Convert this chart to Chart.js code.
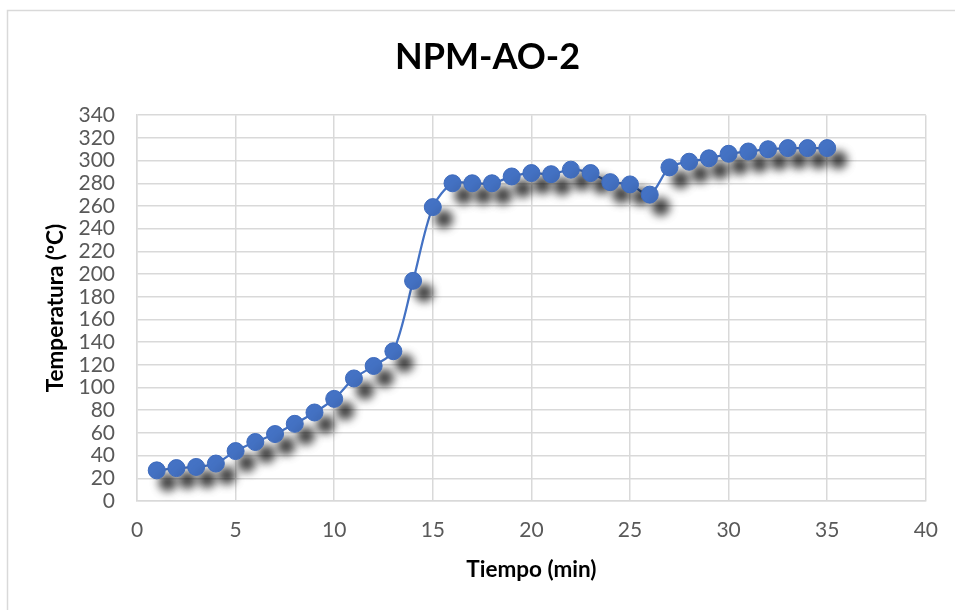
<!DOCTYPE html>
<html>
<head>
<meta charset="utf-8">
<script src="https://cdn.jsdelivr.net/npm/chart.js@4/dist/chart.umd.min.js"></script>
<style>
  html, body { margin: 0; padding: 0; background: #ffffff; }
  #wrap { position: relative; width: 955px; height: 610px; }
</style>
</head>
<body>
<div id="wrap"><canvas id="chart" width="955" height="610"></canvas></div>
<script>
// Heating curve of sample NPM-AO-2
const chartTitle = 'NPM-AO-2';
const xAxisTitle = 'Tiempo (min)';
const yAxisTitle = 'Temperatura (ºC)';

const tiempo = [1, 2, 3, 4, 5, 6, 7, 8, 9, 10, 11, 12, 13, 14, 15, 16, 17, 18,
                19, 20, 21, 22, 23, 24, 25, 26, 27, 28, 29, 30, 31, 32, 33, 34, 35];
const temperatura = [27, 29, 30, 33, 44, 52, 59, 68, 78, 90, 108, 119, 132, 194, 259, 280, 280, 280,
                     286, 289, 288, 292, 289, 281, 279, 270, 294, 299, 302, 306, 308, 310, 311, 311, 311];

const xTicks = { min: 0, max: 40, step: 5 };
const yTicks = { min: 0, max: 340, step: 20 };

const points = tiempo.map((t, i) => ({ x: t, y: temperatura[i] }));

const FONT = 'Lato, "Liberation Sans", sans-serif';
const BLUE = '#4472C4';
const GRID = '#d9d9d9';

// soft drop shadow under the markers only
const markerShadow = {
  id: 'markerShadow',
  beforeDatasetDraw(chart, args) {
    const ds = chart.data.datasets[args.index];
    if (!ds.dropShadow) return;
    const ctx = chart.ctx;
    ctx.save();
    ctx.shadowColor = 'rgba(0,0,0,0.75)';
    ctx.shadowBlur = 8;
    ctx.shadowOffsetX = 11;
    ctx.shadowOffsetY = 12;
  },
  afterDatasetDraw(chart, args) {
    const ds = chart.data.datasets[args.index];
    if (!ds.dropShadow) return;
    chart.ctx.restore();
  }
};

// thin frame around the whole chart
const chartFrame = {
  id: 'chartFrame',
  beforeDraw(chart) {
    const ctx = chart.ctx;
    ctx.save();
    ctx.fillStyle = '#ffffff';
    ctx.fillRect(0, 0, chart.width, chart.height);
    ctx.strokeStyle = '#d9d9d9';
    ctx.lineWidth = 1.5;
    ctx.strokeRect(7.5, 10.5, chart.width + 10, chart.height + 10);
    ctx.restore();
  }
};

new Chart(document.getElementById('chart'), {
  type: 'line',
  data: {
    datasets: [
      {
        label: 'markers',
        data: points,
        showLine: false,
        dropShadow: true,
        pointRadius: 8.5,
        pointHoverRadius: 8.5,
        pointBackgroundColor: BLUE,
        pointBorderColor: '#3e6bbd',
        pointBorderWidth: 1
      },
      {
        label: 'curve',
        data: points,
        borderColor: BLUE,
        borderWidth: 2.25,
        tension: 0.3,
        pointRadius: 0,
        fill: false
      }
    ]
  },
  options: {
    responsive: false,
    animation: false,
    events: [],
    layout: { padding: { left: 20, right: 0, top: 0, bottom: 0 } },
    plugins: {
      legend: { display: false },
      tooltip: { enabled: false },
      title: {
        display: true,
        text: chartTitle,
        color: '#000000',
        font: { family: FONT, size: 36, weight: 'bold', lineHeight: 1.2 },
        padding: { top: 36, bottom: 36 }
      }
    },
    scales: {
      x: {
        type: 'linear',
        min: xTicks.min,
        max: xTicks.max,
        ticks: {
          stepSize: xTicks.step,
          autoSkip: false,
          color: '#595959',
          padding: 17,
          font: { family: FONT, size: 21 }
        },
        grid: { color: GRID, lineWidth: 1.5, drawTicks: false },
        border: { color: GRID, width: 1.5 },
        title: {
          display: true,
          text: xAxisTitle,
          color: '#000000',
          font: { family: FONT, size: 22.5, weight: 'bold', lineHeight: 1.2 },
          padding: { top: 0, bottom: 26.5 }
        },
        afterFit(scale) { scale.height = 109; }
      },
      y: {
        min: yTicks.min,
        max: yTicks.max,
        ticks: {
          stepSize: yTicks.step,
          autoSkip: false,
          color: '#595959',
          padding: 22,
          font: { family: FONT, size: 21 }
        },
        grid: { color: GRID, lineWidth: 1.5, drawTicks: false },
        border: { color: GRID, width: 1.5 },
        title: {
          display: true,
          text: yAxisTitle,
          color: '#000000',
          font: { family: FONT, size: 22.5, weight: 'bold', lineHeight: 1.2 },
          padding: { top: 22.5, bottom: 0 }
        },
        afterFit(scale) { scale.width = 117; }
      },
      // empty right-hand margin beside the plot area
      margin: {
        type: 'linear',
        position: 'right',
        display: true,
        ticks: { display: false },
        grid: { display: false, drawTicks: false },
        border: { display: false },
        afterFit(scale) { scale.width = 29; }
      }
    }
  },
  plugins: [chartFrame, markerShadow]
});
</script>
</body>
</html>
